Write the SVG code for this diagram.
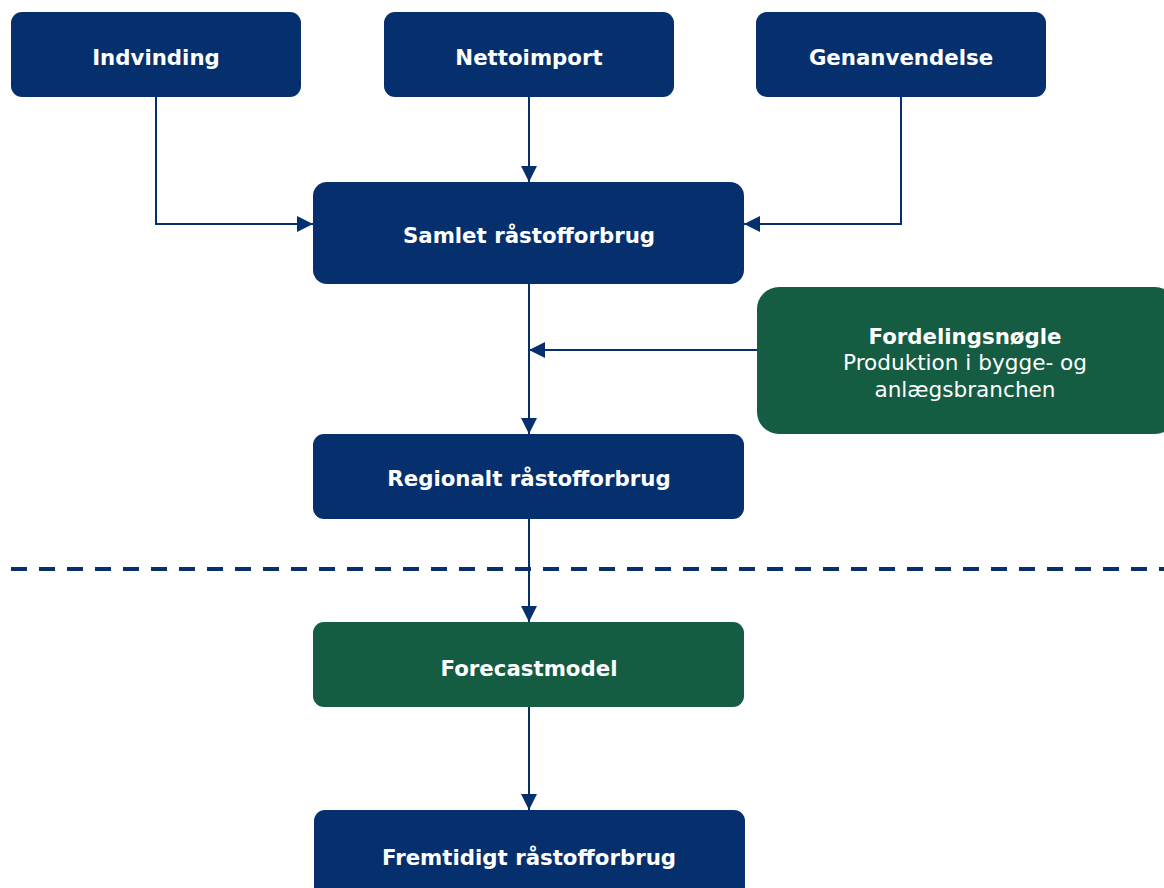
<svg xmlns="http://www.w3.org/2000/svg" width="1164" height="888" viewBox="0 0 1164 888">
<style>
.b{fill:#06306d}
.g{fill:#145c42}
.t{font-family:"DejaVu Sans",Verdana,sans-serif;font-size:21.3px;font-weight:bold;fill:#fff;text-anchor:middle;dominant-baseline:central}
.r{font-family:"DejaVu Sans",Verdana,sans-serif;font-size:21.6px;fill:#fff;text-anchor:middle;dominant-baseline:central}
.c{fill:none;stroke:#06306d;stroke-width:2}
</style>
<defs>
<marker id="a" viewBox="0 0 10 10" refX="10" refY="5" markerWidth="8" markerHeight="8" markerUnits="strokeWidth" orient="auto">
<path d="M0,0L10,5L0,10z" fill="#06306d"/>
</marker>
</defs>
<rect width="1164" height="888" fill="#fff"/>
<g id="connectors">
<path class="c" d="M156,97V224H313" marker-end="url(#a)"/>
<path class="c" d="M529,97V182" marker-end="url(#a)"/>
<path class="c" d="M901,97V224H744" marker-end="url(#a)"/>
<path class="c" d="M529,284V434" marker-end="url(#a)"/>
<path class="c" d="M757,350H529" marker-end="url(#a)"/>
<path class="c" d="M529,519V622" marker-end="url(#a)"/>
<path class="c" d="M529,707V810" marker-end="url(#a)"/>
<line x1="11" y1="569" x2="1164" y2="569" stroke="#06306d" stroke-width="4" stroke-dasharray="16 12"/>
</g>
<g id="indvinding"><rect class="b" x="11" y="12" width="290" height="85" rx="11"/><text class="t" x="156" y="57">Indvinding</text></g>
<g id="nettoimport"><rect class="b" x="384" y="12" width="290" height="85" rx="11"/><text class="t" x="529" y="57">Nettoimport</text></g>
<g id="genanvendelse"><rect class="b" x="756" y="12" width="290" height="85" rx="11"/><text class="t" x="901" y="57">Genanvendelse</text></g>
<g id="samlet"><rect class="b" x="313" y="182" width="431" height="102" rx="14"/><text class="t" x="529" y="235">Samlet råstofforbrug</text></g>
<g id="fordeling"><rect class="g" x="757" y="287" width="420" height="147" rx="22"/>
<text class="t" x="965" y="336">Fordelingsnøgle</text>
<text class="r" x="965" y="362">Produktion i bygge- og</text>
<text class="r" x="965" y="389">anlægsbranchen</text></g>
<g id="regionalt"><rect class="b" x="313" y="434" width="431" height="85" rx="11"/><text class="t" x="529" y="478">Regionalt råstofforbrug</text></g>
<g id="forecast"><rect class="g" x="313" y="622" width="431" height="85" rx="11"/><text class="t" x="529" y="668">Forecastmodel</text></g>
<g id="fremtidigt"><rect class="b" x="314" y="810" width="431" height="100" rx="11"/><text class="t" x="529" y="857">Fremtidigt råstofforbrug</text></g>
</svg>
